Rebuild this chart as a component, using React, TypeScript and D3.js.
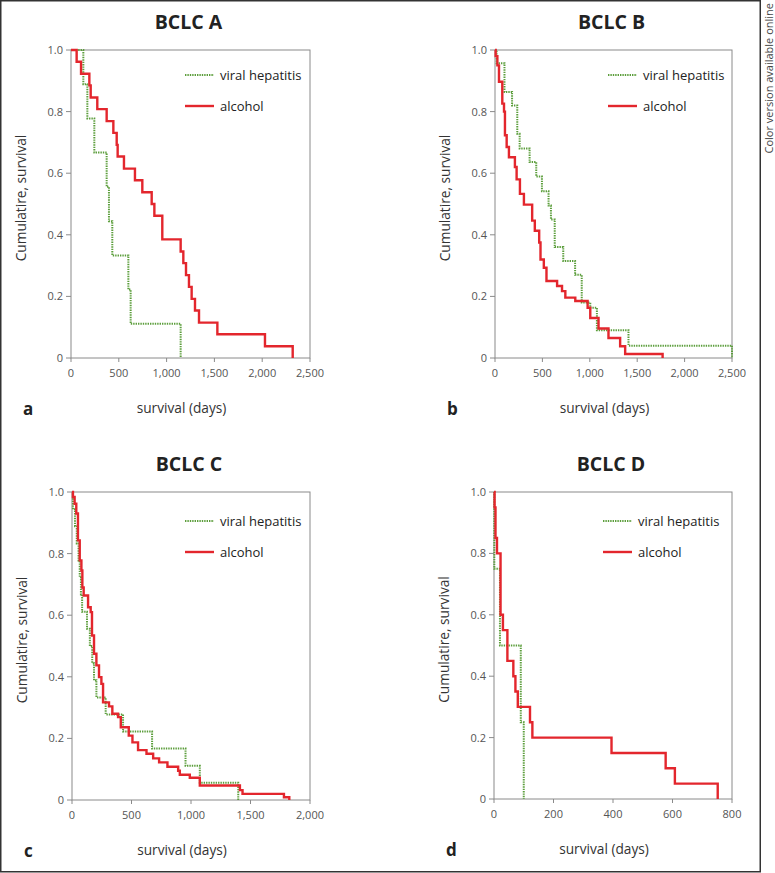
import React from "react";
import * as d3 from "d3";

// ---------- DATA ----------
const panelTitles = ["BCLC A", "BCLC B", "BCLC C", "BCLC D"];
const panelLetters = ["a", "b", "c", "d"];
const xMaxValues = [2500, 2500, 2000, 800];
const xTicksA = [0, 500, 1000, 1500, 2000, 2500];
const xTicksB = [0, 500, 1000, 1500, 2000, 2500];
const xTicksC = [0, 500, 1000, 1500, 2000];
const xTicksD = [0, 200, 400, 600, 800];
const yTicks = [0, 0.2, 0.4, 0.6, 0.8, 1.0];
const yTickLabels = ["0", "0.2", "0.4", "0.6", "0.8", "1.0"];
const seriesNames = ["viral hepatitis", "alcohol"];

// BCLC A
const viralA_t = [0, 129, 171, 244, 373, 397, 432, 600, 624, 1147];
const viralA_s = [1, 0.889, 0.778, 0.667, 0.556, 0.444, 0.333, 0.222, 0.111, 0];
const alcA_t = [0, 59, 105, 192, 206, 275, 373, 443, 478, 488, 554, 669, 746, 844, 872, 955, 1147, 1175, 1203, 1234, 1262, 1297, 1339, 1531, 2029, 2319];
const alcA_s = [1, 0.962, 0.923, 0.885, 0.846, 0.808, 0.769, 0.731, 0.692, 0.654, 0.615, 0.577, 0.538, 0.5, 0.462, 0.385, 0.346, 0.308, 0.269, 0.231, 0.192, 0.154, 0.115, 0.077, 0.038, 0];

// BCLC B
const viralB_t = [0, 17, 100, 180, 235, 260, 365, 435, 495, 565, 590, 630, 720, 845, 915, 1005, 1075, 1408, 2500];
const viralB_s = [1, 0.957, 0.864, 0.82, 0.728, 0.68, 0.636, 0.589, 0.541, 0.495, 0.45, 0.36, 0.315, 0.27, 0.18, 0.163, 0.09, 0.04, 0];
const alcB_t = [0, 7, 25, 42, 77, 95, 105, 123, 147, 210, 228, 263, 305, 392, 420, 466, 480, 515, 543, 655, 707, 742, 847, 977, 1005, 1092, 1197, 1320, 1373, 1768];
const alcB_s = [1, 0.98, 0.95, 0.897, 0.826, 0.8, 0.723, 0.685, 0.652, 0.62, 0.58, 0.533, 0.498, 0.446, 0.413, 0.375, 0.32, 0.293, 0.25, 0.234, 0.217, 0.196, 0.185, 0.163, 0.13, 0.096, 0.065, 0.038, 0.013, 0];

// BCLC C
const viralC_t = [0, 8, 25, 40, 55, 65, 75, 85, 126, 150, 170, 185, 205, 283, 429, 673, 954, 1074, 1397];
const viralC_s = [1, 0.944, 0.889, 0.833, 0.778, 0.722, 0.667, 0.611, 0.556, 0.5, 0.444, 0.389, 0.333, 0.278, 0.222, 0.167, 0.111, 0.056, 0];
const alcC_t = [0, 8, 22, 36, 50, 65, 79, 87, 98, 135, 157, 168, 185, 205, 227, 247, 261, 311, 339, 387, 410, 477, 508, 555, 626, 682, 732, 802, 892, 906, 990, 1074, 1411, 1433, 1781, 1826];
const alcC_s = [1, 0.984, 0.962, 0.93, 0.843, 0.778, 0.745, 0.69, 0.664, 0.626, 0.61, 0.534, 0.475, 0.437, 0.399, 0.377, 0.317, 0.304, 0.28, 0.269, 0.236, 0.209, 0.187, 0.162, 0.15, 0.135, 0.122, 0.108, 0.095, 0.082, 0.072, 0.047, 0.032, 0.02, 0.009, 0];

// BCLC D
const viralD_t = [0, 1, 20, 90, 100];
const viralD_s = [1, 0.75, 0.5, 0.25, 0];
const alcD_t = [0, 2, 5, 10, 22, 30, 45, 65, 72, 80, 121, 129, 395, 577, 608, 752];
const alcD_s = [1, 0.95, 0.85, 0.8, 0.6, 0.55, 0.45, 0.4, 0.35, 0.3, 0.25, 0.2, 0.15, 0.1, 0.05, 0];

const viralT = [viralA_t, viralB_t, viralC_t, viralD_t];
const viralS = [viralA_s, viralB_s, viralC_s, viralD_s];
const alcT = [alcA_t, alcB_t, alcC_t, alcD_t];
const alcS = [alcA_s, alcB_s, alcC_s, alcD_s];
const xTicksAll = [xTicksA, xTicksB, xTicksC, xTicksD];

// ---------- LAYOUT ----------
const W = 775;
const H = 873;
const FONT = "'Open Sans', 'Noto Sans', sans-serif";
const RED = "#e3262d";
const GREEN = "#5c9e3c";
const AXIS = "#8a8a8a";
const TICKTXT = "#555";

const layouts = [
  { left: 71, right: 310, top: 50, bottom: 358, legDx: 114 },
  { left: 495, right: 732, top: 50, bottom: 358, legDx: 113 },
  { left: 72, right: 310, top: 492, bottom: 800, legDx: 113 },
  { left: 494, right: 732, top: 492, bottom: 799, legDx: 109 },
];

function Panel({ i }: { i: number }) {
  const L = layouts[i];
  const x = d3.scaleLinear().domain([0, xMaxValues[i]]).range([L.left, L.right]);
  const y = d3.scaleLinear().domain([0, 1]).range([L.bottom, L.top]);
  const line = d3
    .line<[number, number]>()
    .x((d) => x(d[0]))
    .y((d) => y(d[1]))
    .curve(d3.curveStepAfter);
  const vData = viralT[i].map((t, k) => [t, viralS[i][k]] as [number, number]);
  const aData = alcT[i].map((t, k) => [t, alcS[i][k]] as [number, number]);
  const cx = (L.left + L.right) / 2;
  const cy = (L.top + L.bottom) / 2;
  const fmt = d3.format(",");
  const legX = L.left + L.legDx;
  const legY1 = L.top + (i < 2 ? 25 : 29);
  const legY2 = L.top + (i < 2 ? 56 : 60);
  return (
    <g>
      <text x={cx - 2} y={L.top - 21} textAnchor="middle" fontFamily={FONT} fontWeight={700} fontSize={19.5} fill="#222">
        {panelTitles[i]}
      </text>
      <rect x={L.left} y={L.top} width={L.right - L.left} height={L.bottom - L.top} fill="none" stroke={AXIS} strokeWidth={1} />
      {yTicks.map((v, k) => (
        <g key={"y" + k}>
          <line x1={L.left - 5} x2={L.left} y1={y(v)} y2={y(v)} stroke={AXIS} strokeWidth={1} />
          <text x={L.left - 8} y={y(v) + 4} textAnchor="end" fontFamily={FONT} fontSize={11} fill={TICKTXT}>
            {yTickLabels[k]}
          </text>
        </g>
      ))}
      {xTicksAll[i].map((v, k) => (
        <g key={"x" + k}>
          <line x1={x(v)} x2={x(v)} y1={L.bottom} y2={L.bottom + 4} stroke={AXIS} strokeWidth={1} />
          <text x={x(v)} y={L.bottom + 19} textAnchor="middle" fontFamily={FONT} fontSize={11} fill={TICKTXT}>
            {fmt(v)}
          </text>
        </g>
      ))}
      <path d={line(vData) || ""} fill="none" stroke={GREEN} strokeWidth={2} strokeDasharray="1.4 1" />
      <path d={line(aData) || ""} fill="none" stroke={RED} strokeWidth={2.4} />
      <line x1={legX} x2={legX + 29} y1={legY1} y2={legY1} stroke={GREEN} strokeWidth={2} strokeDasharray="1.4 1" />
      <text x={legX + 35} y={legY1 + 4.5} fontFamily={FONT} fontSize={13} fill="#222">
        {seriesNames[0]}
      </text>
      <line x1={legX} x2={legX + 29} y1={legY2} y2={legY2} stroke={RED} strokeWidth={2.4} />
      <text x={legX + 35} y={legY2 + 4.5} fontFamily={FONT} fontSize={13} fill="#222">
        {seriesNames[1]}
      </text>
      <text
        transform={`translate(${L.left - 45},${cy - 6}) rotate(-90)`}
        textAnchor="middle"
        fontFamily={FONT}
        fontSize={13.7}
        fill="#333"
      >
        Cumulatire, survival
      </text>
      <text x={cx - 9} y={L.bottom + 55} textAnchor="middle" fontFamily={FONT} fontSize={13.7} fill="#333">
        survival (days)
      </text>
      <text x={L.left - 48} y={L.bottom + 57} fontFamily={FONT} fontWeight={700} fontSize={17} fill="#222">
        {panelLetters[i]}
      </text>
    </g>
  );
}

export default function App() {
  return (
    <svg width={W} height={H} style={{ position: "absolute", left: 0, top: 0, background: "#fff" }}>
      <rect x={0} y={0} width={W} height={H} fill="#fff" />
      <rect x={0.75} y={0.75} width={759.5} height={871} fill="none" stroke="#333" strokeWidth={1.5} />
      <text
        transform="translate(773,3) rotate(-90)"
        textAnchor="end"
        fontFamily={FONT}
        fontSize={11}
        fill="#444"
      >
        Color version available online
      </text>
      {[0, 1, 2, 3].map((i) => (
        <Panel key={i} i={i} />
      ))}
    </svg>
  );
}
